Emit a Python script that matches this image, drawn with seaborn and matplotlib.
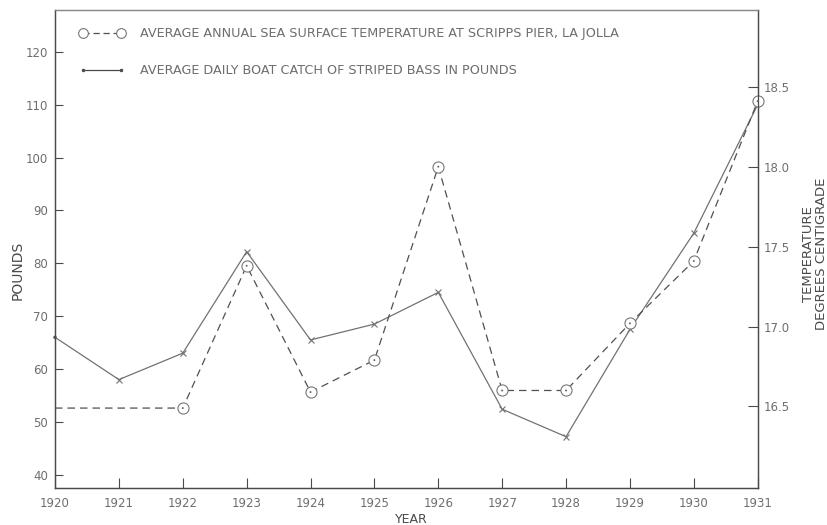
import matplotlib
matplotlib.use("Agg")
import matplotlib.pyplot as plt
import seaborn as sns
import pandas as pd
from matplotlib.lines import Line2D

# Annual series, 1920-1931
years = [1920, 1921, 1922, 1923, 1924, 1925, 1926, 1927, 1928, 1929, 1930, 1931]
catch_lbs = [66.0, 58.0, 63.0, 82.2, 65.5, 68.5, 74.5, 52.4, 47.2, 67.5, 85.7, 110.0]
sea_temp_c = [16.49, 16.49, 16.49, 17.38, 16.59, 16.79, 18.00, 16.60, 16.60, 17.02, 17.41, 18.41]

pound_ticks = [40, 50, 60, 70, 80, 90, 100, 110, 120]
temp_ticks = [16.5, 17.0, 17.5, 18.0, 18.5]
temp_tick_labels = ["16.5", "17.0", "17.5", "18.0", "18.5"]

temp_label = "AVERAGE ANNUAL SEA SURFACE TEMPERATURE AT SCRIPPS PIER, LA JOLLA"
catch_label = "AVERAGE DAILY BOAT CATCH OF STRIPED BASS IN POUNDS"

df = pd.DataFrame({"year": years, "catch": catch_lbs, "temp": sea_temp_c})

sns.set_theme(style="ticks")
plt.rcParams["font.family"] = ["DejaVu Sans"]

INK = "#4a4a4a"
TXT = "#6e6e6e"
SOLID = "#727272"
DASH = "#505050"

W, H = 827, 525
fig = plt.figure(figsize=(W / 100, H / 100), dpi=100)
ax = fig.add_axes([55 / W, 37 / H, 702.7 / W, 478 / H])
ax2 = ax.twinx()

# catch of striped bass (left axis)
sns.lineplot(data=df, x="year", y="catch", ax=ax, color=SOLID, lw=0.9,
             marker="x", markersize=5, markeredgewidth=0.8,
             markeredgecolor=SOLID, markevery=list(range(1, 11)),
             legend=False, clip_on=False)
sns.scatterplot(x=years[:1], y=catch_lbs[:1], ax=ax, color=INK, s=6,
                edgecolor="none", legend=False, clip_on=False)

# sea surface temperature (right axis)
sns.lineplot(data=df, x="year", y="temp", ax=ax2, color=DASH, lw=0.9,
             linestyle=(0, (6, 4)), marker="o", markersize=8,
             markerfacecolor="white", markeredgecolor="#777777",
             markeredgewidth=0.8, markevery=list(range(2, 12)),
             legend=False, clip_on=False)
sns.scatterplot(x=years[2:], y=sea_temp_c[2:], ax=ax2, color="#666666", s=2,
                edgecolor="none", legend=False, zorder=5, clip_on=False)

# axes limits and ticks
ax.set_xlim(1920, 1931)
ax.set_ylim(37.5, 127.9)
ax2.set_ylim(15.99, 18.98)

ax.set_xticks(years)
ax.set_xticklabels([str(y) for y in years])
ax.set_yticks(pound_ticks)
ax2.set_yticks(temp_ticks)
ax2.set_yticklabels(temp_tick_labels)

ax.tick_params(axis="x", direction="in", length=7, width=0.8, color=INK,
               labelsize=8.5, labelcolor=TXT, pad=6.5)
ax.tick_params(axis="y", direction="in", length=6, width=0.8, color=INK,
               labelsize=8.5, labelcolor=TXT, pad=5)
ax2.tick_params(axis="y", direction="in", length=7, width=0.8, color=INK,
                labelsize=8.5, labelcolor=TXT, pad=4)

for a in (ax, ax2):
    for s in a.spines.values():
        s.set_visible(True)
        s.set_color(INK)
        s.set_linewidth(0.9)
ax.spines["top"].set_color("#8a8a8a")
ax2.spines["top"].set_color("#8a8a8a")

ax.set_xlabel("YEAR", fontsize=9, color=INK)
ax.xaxis.set_label_coords(0.507, -0.052)
ax.set_ylabel("POUNDS", fontsize=10, color=INK)
ax.yaxis.set_label_coords(-0.043, 0.455)
ax2.set_ylabel("TEMPERATURE\nDEGREES CENTIGRADE", fontsize=9.5, color=INK,
               linespacing=1.0, rotation=90)
ax2.yaxis.set_label_coords(1.0625, 0.49)

# legend
handles = [
    Line2D([], [], color=DASH, lw=0.9, linestyle=(0, (5, 3)), marker="o",
           markersize=7, markerfacecolor="white", markeredgecolor="#777777",
           markeredgewidth=0.8),
    Line2D([], [], color=INK, lw=0.9, marker=".", markersize=3),
]
leg = ax2.legend(handles, [temp_label, catch_label], loc="upper left",
                 bbox_to_anchor=(79 / W, (H - 27) / H),
                 bbox_transform=fig.transFigure, frameon=False,
                 fontsize=9.2, numpoints=2, handlelength=3.6,
                 handletextpad=1.2, labelspacing=1.9, borderpad=0,
                 borderaxespad=0)
for t in leg.get_texts():
    t.set_color(TXT)

fig.savefig("out.png", dpi=100, facecolor="white")
